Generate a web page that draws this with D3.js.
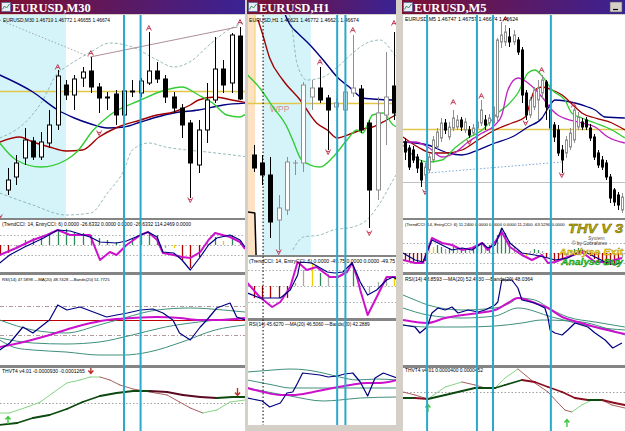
<!DOCTYPE html>
<html>
<head>
<meta charset="utf-8">
<script src="https://cdn.jsdelivr.net/npm/d3@7"></script>
<style>
body { margin:0; background:#d4d0c8; }
svg { display:block; }
</style>
</head>
<body>
<svg id="chart" width="625" height="431" font-family="Liberation Sans, DejaVu Sans, sans-serif"></svg>
<script>
// ---------- EURUSD M30 (bar index, level) ----------
// candles: [open, high, low, close]
const m30Candles = [
  [28,50,23,38],[41,63,33,55],[60,90,53,78],[77,81,58,61],[61,86,58,76],[75,108,70,93],
  [93,148,88,142],[133,138,118,123],[123,143,108,139],[140,151,131,146],[147,161,125,131],
  [131,135,105,120],[121,126,108,120],[124,128,93,103],[103,130,98,127],[126,138,121,127],
  [125,140,121,137],[135,186,133,147],[147,156,135,139],[139,143,115,121],[121,126,105,110],
  [110,114,80,93],[95,98,20,55],[53,98,45,88],[88,135,75,118],[118,181,115,149],
  [149,158,125,133],[135,185,125,183],[182,191,118,119]
];
const m30Navy = [[-1,143],[3,126],[6,108],[8,100],[10,94],[12,90],[14,91],[16,96],[18,101],[20,105],[23,108],[26,113],[29,115]];
const m30Maroon = [[-1,76],[1.4,81],[3,76],[5,71],[7,67],[9,68],[11,81],[13,90],[16,98],[18,103],[20,106],[22,113],[23,118],[25,121],[27,118],[29,115]];
const m30Green = [[-1,75],[1,58],[4,51],[7,58],[8.3,66],[10.3,88],[12.3,103],[16,118],[19,128],[21,131],[23,123],[24.7,115],[26.4,103],[28,101],[29,106]];
const m30Upper = [[-1,80],[2,95],[4,115],[6,145],[7,151],[8.7,160],[10,166],[12.3,175],[15,171],[18,158],[20,151],[22.3,158],[24,171],[27,190],[28.7,196]];
const m30Lower = [[-1,25],[3,13],[7,3],[10,5],[12,25],[14,48],[15,68],[17,75],[19,71],[21.6,68],[24,66],[29,61]];
const m30TrendDotted = [[-1,198],[9.9,161]];
const m30TrendSolid = [[9.9,161],[27.7,191]];
const m30Pivot = 127;
const m30Session = [-1, 7];
const m30Cyan = [14, 16];
const m30UpMarks = [[6,151],[10,165],[17,190],[28,196]];
const m30DownMarks = [[-1,1],[11,85],[22,18]];
// TrendCCI (index -1 .. 28)
const m30CciBars = [-10,-8,-3,5,7,8,12,15,16,13,12,10,7,5,3,5,7,10,13,10,-3,-3,-15,-23,-12,3,8,4,10,5];
const m30CciColors = "rrngggggggggggggggggnyrrrngygg".split("");
const m30CciFast = [[-1,-18],[0.2,-10],[2,-2],[4.3,7],[6,15],[7.5,14],[9.9,8],[11.1,3],[13.1,2],[14.3,4],[16,10],[16.9,13],[18,8],[18.7,-7],[20,-8],[21,-15],[22,-25],[23.2,-12],[24.2,0],[25.2,7],[26.8,10],[28,5],[28.6,-2]];
const m30CciSlow = [[-1,-10],[1,-3],[3,5],[4.7,10],[6,15],[7.5,10],[9.9,10],[11.1,-15],[12.3,-7],[13.1,-10],[14.3,0],[16,10],[16.9,13],[18,5],[18.7,-8],[20,-10],[21,-12],[22,-13],[23.2,-7],[24.2,5],[25,12],[26.8,8],[28,3],[28.6,-4]];
const m30CciLevels = [10, 0, -10];
// RSI
const m30Rsi = [[-1,15],[0.2,22],[1.8,38],[3,32],[5,45],[6,60],[7.1,55],[8.7,58],[10.3,53],[11.9,48],[13.1,50],[14.4,52],[16,55],[17.5,56],[18.7,52],[19.9,45],[20.7,32],[22,25],[23.2,38],[24,45],[25.2,57],[26.8,62],[27.6,48],[28.6,45]];
const m30RsiMa = [[-1,18],[1.4,22],[5,30],[9,40],[12,45],[15.1,47],[18,48],[20.7,47],[23.2,45],[25.6,45],[28.6,47]];
const m30BandUp = [[-1,45],[3,35],[7,32],[11,40],[14,47],[18,55],[22,57],[26,55],[28.6,53]];
const m30BandMid = [[-1,27],[3,22],[7,21],[11,23],[15,30],[19,38],[23,43],[28.6,47]];
const m30BandLow = [[-1,25],[1,17],[3,15],[7,13],[11,10],[14,10],[17,13],[21,23],[25,35],[28.6,40]];
const m30RsiLevels = [59, 45, 30];
// THVT4
const m30ThvSignal = [[-1,18],[0.2,18],[2.3,24],[3.9,29],[5.4,38],[7.1,48],[8.7,51],[9.9,54],[11.1,54],[12.3,51],[13.5,46],[15.1,42],[17.1,39],[19.2,36],[20.7,29],[22,23],[23.5,18],[25.2,21],[26.8,29],[28.6,31]];
const m30ThvMain = [[-1,6],[1.1,8],[3,13],[5,16],[7.1,22],[9,29],[11.1,35],[13.1,38],[15.1,40],[17.1,40],[19.2,39],[21.1,36],[23.2,34],[25.2,33],[27.1,34],[28.6,34]];
const m30ThvLevel = 28;
const m30ThvUp = [[0,11]];
const m30ThvDown = [[10,61],[27.7,39]];

// ---------- EURUSD H1 ----------
const h1Candles = [
  [100,110,83,87],[92,100,70,80],[80,98,17,33],[35,60,5,47],[45,98,40,93],[92,95,80,92],
  [92,173,83,170],[158,175,145,167],[167,188,152,155],[157,160,105,145],[148,157,145,152],
  [145,175,143,163],[162,220,158,167],[166,170,122,125],[132,135,27,65],[65,158,55,142],
  [140,203,110,158],[169,223,135,142]
];
const h1Navy = [[3.8,240],[4.4,230],[5.3,222],[6.8,210],[8.4,195],[10.1,178],[11.7,167],[13.2,157],[14.4,156],[16.9,155],[17.4,157]];
const h1Maroon = [[0.5,235],[1,222],[1.9,197],[3.5,175],[5.6,155],[7.6,132],[8.9,125],[10.1,117],[12,122],[13.7,127],[14.4,128],[16.1,135],[17.4,141]];
const h1Green = [[-0.8,180],[0.7,167],[2.3,148],[4,128],[4.7,115],[5.8,95],[8,88],[9.6,98],[11.3,115],[12.5,125],[13.2,122],[14.4,140],[15.7,142],[16.9,130],[17.4,128]];
const h1Upper = [[4.2,245],[4.7,222],[5.2,192],[6.4,175],[8.4,178],[10.4,190],[12,202],[13.7,212],[15.3,215],[16.9,202],[17.4,196]];
const h1Lower = [[4.7,5],[6,18],[8,20],[9.6,25],[12,28],[13.7,35],[15.3,52],[17.1,78],[17.4,82]];
const h1Black = [[-0.8,43],[0.1,42],[0.25,0]];
const h1Pivot = 152;
const h1Band = [-0.8, 0.12];
const h1Session = [1.1, 6.9];
const h1Cyan = [10.1, 11.1];
const h1UpMarks = [[8,193],[12,225],[17,232]];
const h1DownMarks = [[3,3],[9,103],[14,22]];
const h1CciBars = [-12,-12,-12,-12,-12,3,16,23,13,12,8,5,18,3,-7,4,8,9];
const h1CciColors = "rrrrrnnygnnngnnnny".split("");
const h1CciFast = [[-0.8,-7],[0.7,-12],[3.2,-12],[4.4,-4],[5.3,11],[5.6,24],[7,23],[8.9,14],[9.8,13],[10.8,14],[11.9,23],[12.4,14],[12.9,4],[13.8,-9],[14.9,-4],[16.1,6],[16.9,9],[17.4,6]];
const h1CciSlow = [[-0.8,3],[0.7,-11],[2.2,-21],[3.2,-16],[4.4,-1],[5.3,24],[6.4,16],[7.6,19],[9.2,9],[10.2,9],[11.3,14],[11.9,23],[12.5,9],[12.9,-4],[13.8,-29],[14.9,-11],[16.1,9],[17.4,9]];
const h1CciLevels = [16, 0, -16];
const h1Rsi = [[-0.8,27],[1,24],[1.9,18],[3.2,22],[4,32],[4.7,33],[5.3,42],[5.9,52],[8,50],[9,48],[10.1,49],[11,51],[12,52],[12.9,43],[13.8,29],[14.7,47],[15.7,52],[17.4,47]];
const h1RsiMa = [[-0.8,37],[1.1,33],[3.2,30],[4.7,30],[7.2,33],[9.6,37],[11.7,40],[13.7,42],[15.3,42],[17.4,45]];
const h1BandUp = [[-0.8,53],[2.3,55],[4.4,56],[6.4,55],[8.4,52],[10.4,48],[12.5,45],[14.9,46],[17.4,45]];
const h1BandMid = [[-0.8,45],[2.3,40],[4.4,37],[8.4,37],[12.5,37],[17.4,37]];
const h1BandLow = [[-0.8,37],[2.3,32],[4.4,29],[8.4,24],[10.4,25],[12.9,27],[17.4,28]];

// ---------- EURUSD M5 ----------
const m5Candles = [
  [76,80,58,66],[70,73,48,51],[68,72,55,58],[61,64,45,50],[55,58,31,38],[43,55,28,51],
  [48,64,45,61],[58,82,55,78],[71,90,68,86],[80,100,76,95],[95,99,84,88],[81,96,78,91],
  [90,108,87,100],[91,103,88,98],[98,101,87,91],[88,100,85,96],[88,92,80,83],[85,94,82,90],
  [90,100,86,96],[95,118,92,108],[98,103,88,93],[95,104,92,100],[95,114,92,111],[101,180,96,178],
  [176,196,170,183],[176,193,172,186],[181,190,171,176],[176,188,173,183],[178,181,163,166],
  [168,171,115,123],[125,128,98,103],[103,121,100,118],[111,131,108,128],[118,138,98,130],
  [125,143,120,138],[136,138,98,111],[108,112,85,90],[93,96,76,81],[88,93,62,65],[68,73,45,58],
  [65,82,60,78],[71,90,68,85],[78,110,75,108],[91,106,88,101],[96,100,88,91],[98,101,88,91],
  [90,94,77,80],[81,84,58,61],[65,68,50,53],[58,62,48,51],[55,58,38,41],[41,44,15,20],
  [28,30,12,16],[23,26,8,13],[8,25,5,21]
];
const m5Magenta = [[-0.5,76],[2.5,76],[5.7,71],[9.2,61],[12.4,65],[15.7,76],[19.2,85],[22.4,93],[24.1,103],[25.6,128],[28.1,140],[30.6,135],[34.1,121],[36.6,108],[38,103],[44,95],[47.3,91],[50.5,81],[54.7,75]];
const m5Green = [[-0.5,73],[2.5,61],[5.7,56],[9.2,58],[12.4,70],[15.7,80],[19.2,88],[21.6,98],[23.1,105],[25.6,113],[28.1,125],[30.6,145],[32.3,148],[34.3,141],[36.6,128],[39.8,118],[41.5,105],[44,100],[47.3,95],[51.5,88],[54.7,80]];
const m5Maroon = [[-0.5,81],[3.2,71],[6.7,65],[10,65],[14.2,68],[18.2,78],[22.4,88],[26.6,95],[29.9,101],[30.6,108],[32.3,128],[34.1,131],[36.6,128],[39.1,123],[42.3,111],[44,105],[47.3,100],[51.5,95],[54.7,88]];
const m5Navy = [[-0.5,76],[5.7,73],[10.7,65],[14.2,63],[18.2,68],[22.4,75],[26.6,81],[30.6,91],[34.1,100],[36.1,113],[37.3,118],[42.3,115],[45.5,111],[47.3,108],[49.8,101],[54.7,100]];
const m5Pivot = 89;
const m5Flat = 36;
const m5Dotted = [[5.7,45],[39,56]];
const m5Cyan = [5.5, 17.9, 21.9, 36.3];
const m5UpMarks = [[12,116],[19,122],[25,199],[34,148],[42,113]];
const m5DownMarks = [[5,26],[16,76],[30,95],[39,43]];
const m5CciBars = [-8,-9,-9,-10,-10,-8,5,6,8,6,4,5,6,4,5,4,3,5,7,9,5,8,10,18,25,20,12,6,3,-2,-3,2,4,3,2,-5,-7,-8,-7,-6,-3,2,4,5,3,2,-3,-6,-9,-10,-11,-12,-11,-10,-5];
const m5CciColors = ("rrrrrr" + "yyggnggnggngggnggggggnn" + "nynggn" + "rrrrr" + "nnggnn" + "rrrrrrrr" + "n").split("");
const m5CciFast = [[-0.5,0],[2.5,-7],[4.5,-9],[6.7,13],[9.2,8],[11.7,3],[14.2,5],[16.7,3],[19.2,10],[20.6,5],[22.4,8],[24.1,25],[26.1,10],[29.1,0],[32.3,-2],[35.6,-5],[37.3,-7],[40.5,-5],[44,3],[47.3,-4],[49.8,-9],[52.2,-12],[54,-9]];
const m5CciSlow = [[-0.5,-7],[2.5,-10],[4.5,-10],[6.7,15],[9.2,10],[11.7,8],[14.2,3],[16.7,5],[19.2,10],[20.6,3],[22.4,11],[24.1,21],[26.1,6],[29.1,-2],[31.6,-7],[34.1,-2],[35.6,-10],[37.3,-9],[40.5,-4],[44,1],[47.3,-9],[50.5,-9],[54,-5]];
const m5CciLevels = [10, 0, -10];
const m5Rsi = [[-0.5,40],[2.5,38],[3.7,32],[5.5,38],[6.7,52],[8.2,57],[10,55],[11.7,58],[13.2,52],[15.7,55],[18.2,53],[19.9,55],[22.4,60],[23.1,63],[24.1,85],[26.6,85],[28.1,77],[29.1,65],[32.3,62],[34.8,57],[35.6,47],[36.1,35],[37.3,32],[39.1,30],[40.5,35],[42.3,42],[45.5,38],[47.3,32],[49.8,25],[51.7,17],[54,22]];
const m5RsiMa = [[-0.5,45],[5.5,42],[10,47],[18.2,52],[22.4,55],[25.6,62],[28.1,67],[32.3,62],[35.6,57],[39.1,48],[43,43],[47.3,38],[54.7,31]];
const m5BandUp = [[-0.5,70],[2.5,65],[5.7,60],[14.2,55],[22.4,57],[26.6,63],[28.1,67],[32.3,65],[36.6,55],[40.5,48],[47.3,43],[54.7,38]];
const m5BandMid = [[-0.5,57],[5.7,50],[14.2,47],[22.4,49],[28.1,57],[36.6,48],[47.3,38],[54.7,35]];
const m5BandLow = [[-0.5,40],[5.7,38],[14.2,38],[22.4,39],[29.1,42],[34.1,45],[44,43],[49,38],[54.7,30]];
const m5ThvSignal = [[-0.5,39],[2.5,36],[5.7,32],[10,44],[14.2,49],[17.4,46],[19.9,43],[22.4,43],[24.9,53],[28.1,62],[29.9,56],[32.3,48],[35.6,39],[38.1,28],[39.8,21],[41.5,19],[44,26],[46.5,31],[49,31],[51.5,26],[54.7,23]];
const m5ThvMain = [[-0.5,33],[2.5,33],[5.7,32],[10,36],[14.2,40],[17.4,43],[19.9,43],[22.4,43],[24.9,46],[29.1,51],[32.3,49],[35.6,44],[39.1,39],[42.3,33],[45.5,31],[49,31],[52.2,28],[54.7,26]];
const m5ThvLevel = 39;
const m5ThvUp = [[5.7,23],[40.3,8]];

// ---------- texts ----------
const titles = ["EURUSD,M30", "EURUSD,H1", "EURUSD,M5"];
const priceHeaders = ["EURUSD,M30  1.46719 1.46772 1.46655 1.46674", "EURUSD,H1  1.46621 1.46772 1.46621 1.46674", "EURUSD,M5  1.46747 1.46757 1.46674 1.46624"];
const cciHeaders = ["(TrendCCI: 14, EntryCCI: 6)  0.0000 -26.6332 0.0000 0.0000 -26.6332 114.2469 0.0000",
  "(TrendCCI: 14, EntryCCI: 6)  0.0000 -49.75 0.0000 0.0000 -49.75",
  "(TrendCCI: 14, EntryCCI: 6)  11.2400 0.0000 0.0000 0.0000 11.2400 -63.5290 0.0000"];
const rsiHeaders = ["RSI(14) 47.5898  \u2014MA(20) 48.7428  \u2014Bands(20) 51.7725",
  "RSI(14) 45.6270  \u2014MA(20) 46.5060  \u2014Bands(20) 42.2889",
  "RSI(14) 48.8593  \u2014MA(20) 52.4930  \u2014Bands(20) 48.0364"];
const thvHeaders = ["THVT4 v4.01 -0.0000930 -0.0001265", "THVT4 v4.01 0.0000400 0.0000452"];
const logoTexts = ["THV V 3", "System", "\u00a9 by Cobraforex", "Analyse Exit", "Analyse Buy"];

// ---------- drawing ----------
const svg = d3.select("#chart");
const defs = svg.append("defs");
const grad = defs.append("linearGradient").attr("id", "tb").attr("x1", 0).attr("x2", 1);
grad.append("stop").attr("offset", 0).attr("stop-color", "#7d1030");
grad.append("stop").attr("offset", 1).attr("stop-color", "#3a2294");

const cNavy = "#000080", cMaroon = "#a00000", cGreen = "#33cc33", cMag = "#cc11cc",
      cTeal = "#3f8f7c", cBand = "#7fa8a8", cCyan = "#29a9cc", cYellow = "#e2c64a",
      cMark = "#c23a55";
const barColor = {r: "#b00000", g: "#2e8b57", y: "#f0d000", n: "#a8a8a8"};

let clipN = 0;
function panel(x, x0, x1, top, bottom, domain) {
  const id = "clip" + (clipN++);
  defs.append("clipPath").attr("id", id).append("rect")
    .attr("x", x0).attr("y", top).attr("width", x1 - x0).attr("height", bottom - top);
  svg.append("rect").attr("x", x0).attr("y", top).attr("width", x1 - x0).attr("height", bottom - top).attr("fill", "#fff");
  const g = svg.append("g").attr("clip-path", `url(#${id})`);
  const y = d3.scaleLinear().domain(domain).range([bottom, top]);
  return {g, x, y, x0, x1, top, bottom};
}

function shade(p, a, b, color) {
  p.g.append("rect").attr("x", p.x(a)).attr("width", p.x(b) - p.x(a))
    .attr("y", p.top).attr("height", p.bottom - p.top).attr("fill", color);
}

function hline(p, v, color, w, dash) {
  p.g.append("line").attr("x1", p.x0).attr("x2", p.x1)
    .attr("y1", Math.round(p.y(v)) + 0.5).attr("y2", Math.round(p.y(v)) + 0.5)
    .attr("stroke", color).attr("stroke-width", w).attr("stroke-dasharray", dash || null);
}

function line(p, pts, color, w, dash, curve) {
  p.g.append("path").datum(pts)
    .attr("fill", "none").attr("stroke", color).attr("stroke-width", w)
    .attr("stroke-dasharray", dash || null).attr("stroke-linejoin", "round")
    .attr("d", d3.line().x(d => p.x(d[0])).y(d => p.y(d[1])).curve(curve || d3.curveMonotoneX));
}

function twoTone(p, pts, upC, downC, w) {
  p.g.append("g").selectAll("line").data(d3.pairs(pts)).join("line")
    .attr("x1", d => p.x(d[0][0])).attr("y1", d => p.y(d[0][1]))
    .attr("x2", d => p.x(d[1][0])).attr("y2", d => p.y(d[1][1]))
    .attr("stroke", d => d[1][1] >= d[0][1] ? upC : downC)
    .attr("stroke-width", w).attr("stroke-linecap", "round");
}

function candles(p, data, bw, upColor) {
  const g = p.g.append("g");
  const cx = i => Math.round(p.x(i)) + 0.5;
  g.selectAll("line").data(data).join("line")
    .attr("x1", (d, i) => cx(i)).attr("x2", (d, i) => cx(i))
    .attr("y1", d => p.y(d[1])).attr("y2", d => p.y(d[2]))
    .attr("stroke", d => d[3] >= d[0] ? upColor : "#000");
  g.selectAll("rect").data(data).join("rect")
    .attr("x", (d, i) => cx(i) - bw / 2)
    .attr("y", d => p.y(Math.max(d[0], d[3])))
    .attr("width", bw)
    .attr("height", d => Math.max(0.01, Math.abs(p.y(d[0]) - p.y(d[3]))))
    .attr("fill", d => d[3] > d[0] ? "#fff" : (d[3] < d[0] ? "#000" : "none"))
    .attr("stroke", d => d[3] >= d[0] ? upColor : "#000");
}

function cciBars(p, values, colors, start) {
  p.g.append("g").selectAll("line").data(values).join("line")
    .attr("x1", (d, i) => Math.round(p.x(i + start)) + 0.5).attr("x2", (d, i) => Math.round(p.x(i + start)) + 0.5)
    .attr("y1", p.y(0)).attr("y2", d => p.y(d))
    .attr("stroke", (d, i) => barColor[colors[i]]).attr("stroke-width", 1.3);
}

function marks(p, pts, up) {
  p.g.append("g").selectAll("path").data(pts).join("path")
    .attr("transform", d => `translate(${p.x(d[0])},${p.y(d[1])})`)
    .attr("d", up ? "M-2.5,2.5L0,-2.5L2.5,2.5M-1.3,0.6H1.3" : "M-2.5,-2.5L0,2.5L2.5,-2.5M-1.3,-0.6H1.3")
    .attr("fill", "none").attr("stroke", cMark).attr("stroke-width", 1);
}

function arrows(p, pts, up) {
  p.g.append("g").selectAll("path").data(pts).join("path")
    .attr("transform", d => `translate(${p.x(d[0])},${p.y(d[1])})`)
    .attr("d", up ? "M0,4V-3M-2.5,-0.5L0,-3.5L2.5,-0.5" : "M0,-4V3M-2.5,0.5L0,3.5L2.5,0.5")
    .attr("fill", "none").attr("stroke", up ? "#3cc43c" : "#c0302a").attr("stroke-width", 1.4);
}

// small header text: the font size is chosen so the text spans `len` pixels
function label(x, y, txt, len) {
  const t = svg.append("text").attr("x", x).attr("y", y).attr("font-size", 10).attr("fill", "#000").text(txt);
  const w = t.node().getComputedTextLength();
  t.attr("font-size", (10 * len / w).toFixed(2));
}

function separator(x0, x1, y, h) {
  svg.append("rect").attr("x", x0).attr("y", y).attr("width", x1 - x0).attr("height", h).attr("fill", "#858585");
}

function titleBar(x0, x1, txt) {
  svg.append("rect").attr("x", x0).attr("y", 0).attr("width", x1 - x0).attr("height", 14).attr("fill", "url(#tb)");
  svg.append("rect").attr("x", x0 + 1.5).attr("y", 2.5).attr("width", 9).attr("height", 9).attr("fill", "#e8eef8").attr("stroke", "#4060a0").attr("stroke-width", 0.6);
  svg.append("path").attr("d", `M${x0 + 2.5},${9.5}L${x0 + 4.5},${6}L${x0 + 6.5},${8}L${x0 + 9.5},${4}`).attr("fill", "none").attr("stroke", "#1a7a30").attr("stroke-width", 0.8);
  svg.append("text").attr("x", x0 + 12).attr("y", 11.5).attr("fill", "#fff")
    .attr("font-family", "Liberation Serif, DejaVu Serif, serif").attr("font-weight", "bold")
    .attr("font-size", 12.5).text(txt);
}

function vlines(xs, list, color, w, top, bottom, dash) {
  svg.append("g").selectAll("line").data(list).join("line")
    .attr("x1", d => xs(d)).attr("x2", d => xs(d)).attr("y1", top).attr("y2", bottom)
    .attr("stroke", color).attr("stroke-width", w).attr("stroke-dasharray", dash || null);
}

// ================= window 1: M30 =================
const m30X = d3.scaleLinear().domain([0, 28]).range([8, 240]);
titleBar(0, 245, titles[0]);
const a1 = panel(m30X, 0, 245, 15, 218, [0, 203]);
shade(a1, m30Session[0], m30Session[1], "#d5f4fa");
hline(a1, m30Pivot, cYellow, 1.6);
line(a1, m30Upper, cBand, 0.8, "3,2");
line(a1, m30Lower, cBand, 0.8, "3,2");
line(a1, m30TrendDotted, "#909090", 0.8, "1.5,2", d3.curveLinear);
line(a1, m30TrendSolid, "#9a7080", 0.8, null, d3.curveLinear);
line(a1, m30Navy, cNavy, 1.4);
line(a1, m30Maroon, cMaroon, 1.4);
line(a1, m30Green, cGreen, 1.4);
candles(a1, m30Candles, 4, "#000");
marks(a1, m30UpMarks, true);
marks(a1, m30DownMarks, false);
label(3, 22, priceHeaders[0], 107);

separator(0, 245, 218, 2);
const b1 = panel(m30X, 0, 245, 220, 272, [-27, 25]);
m30CciLevels.forEach(v => hline(b1, v, "#999", 0.8, "1.5,2"));
cciBars(b1, m30CciBars, m30CciColors, -1);
line(b1, m30CciSlow, cMag, 2, null, d3.curveLinear);
line(b1, m30CciFast, cNavy, 1.2, null, d3.curveLinear);
label(2, 226, cciHeaders[0], 190);

separator(0, 245, 272, 3);
const c1 = panel(m30X, 0, 245, 275, 365, [0, 90]);
hline(c1, m30RsiLevels[0], "#a08080", 0.8, "4,2,1,2");
hline(c1, m30RsiLevels[1], "#c00000", 1);
hline(c1, m30RsiLevels[2], "#a08080", 0.8, "4,2,1,2");
line(c1, m30BandUp, cTeal, 1);
line(c1, m30BandMid, cTeal, 1);
line(c1, m30BandLow, cTeal, 1);
line(c1, m30RsiMa, cMag, 2);
line(c1, m30Rsi, cNavy, 1.2, null, d3.curveLinear);
label(2, 281, rsiHeaders[0], 108);

separator(0, 245, 365, 3);
const d1 = panel(m30X, 0, 245, 368, 431, [0, 63]);
hline(d1, m30ThvLevel, "#888", 0.8, "1.5,2");
twoTone(d1, m30ThvSignal, "#86d486", "#a86060", 1);
twoTone(d1, m30ThvMain, "#0d4a10", "#5a0a20", 1.8);
arrows(d1, m30ThvUp, true);
arrows(d1, m30ThvDown, false);
label(2, 373, thvHeaders[0], 83);
vlines(m30X, m30Cyan, cCyan, 2, 15, 431);

// ================= window 2: H1 =================
const h1X = d3.scaleLinear().domain([0, 17]).range([254, 394]);
titleBar(247, 396, titles[1]);
const a2 = panel(h1X, 248, 396, 15, 255, [0, 240]);
shade(a2, h1Band[0], h1Band[1], "#fde3c4");
shade(a2, h1Session[0], h1Session[1], "#d5f4fa");
a2.g.append("line").attr("x1", h1X(h1Band[1])).attr("x2", h1X(h1Band[1])).attr("y1", a2.y(240)).attr("y2", a2.y(h1Pivot))
  .attr("stroke", "#ecd060").attr("stroke-width", 1);
hline(a2, h1Pivot, cYellow, 1.6);
a2.g.append("text").attr("x", h1X(h1Session[0]) + 7).attr("y", a2.y(h1Pivot) + 9)
  .attr("font-size", 8.5).attr("fill", "#d88a8a").text("WPP");
line(a2, h1Upper, cBand, 0.8, "3,2");
line(a2, h1Lower, cBand, 0.8, "3,2");
line(a2, h1Navy, cNavy, 1.4);
line(a2, h1Maroon, cMaroon, 1.4);
line(a2, h1Green, cGreen, 1.4);
line(a2, h1Black, "#000", 1.5, null, d3.curveLinear);
candles(a2, h1Candles, 4, "#909090");
marks(a2, h1UpMarks, true);
marks(a2, h1DownMarks, false);
label(249, 22, priceHeaders[1], 110);

separator(248, 396, 255, 2);
const b2 = panel(h1X, 248, 396, 257, 318, [-32, 29]);
h1CciLevels.forEach(v => hline(b2, v, "#999", 0.8, "1.5,2"));
cciBars(b2, h1CciBars, h1CciColors, 0);
line(b2, h1CciSlow, cMag, 2, null, d3.curveLinear);
line(b2, h1CciFast, cNavy, 1.2, null, d3.curveLinear);
label(249, 263, cciHeaders[1], 146);

separator(248, 396, 318, 3);
const c2 = panel(h1X, 248, 396, 321, 425, [0, 104]);
line(c2, h1BandUp, cTeal, 1);
line(c2, h1BandMid, cTeal, 1);
line(c2, h1BandLow, cTeal, 1);
line(c2, h1RsiMa, cMag, 2);
line(c2, h1Rsi, cNavy, 1.2, null, d3.curveLinear);
label(249, 326, rsiHeaders[1], 121);
vlines(h1X, [h1Session[0]], "#000", 1, 15, 425, "1.5,2");
vlines(h1X, h1Cyan, cCyan, 2, 15, 425);

// ================= window 3: M5 =================
const m5X = d3.scaleLinear().domain([0, 54]).range([405, 622]);
titleBar(402, 625, titles[2]);
svg.append("rect").attr("x", 610).attr("y", 2).attr("width", 12).attr("height", 10).attr("fill", "#d4d0c8").attr("stroke", "#555").attr("stroke-width", 0.6);
svg.append("line").attr("x1", 613).attr("x2", 618).attr("y1", 9.5).attr("y2", 9.5).attr("stroke", "#000").attr("stroke-width", 1.2);
const a3 = panel(m5X, 403, 625, 15, 218, [0, 203]);
hline(a3, m5Pivot, cYellow, 1.6);
hline(a3, m5Flat, "#b0b0b0", 0.8);
line(a3, m5Dotted, "#6a9ad0", 0.9, "1.5,2", d3.curveLinear);
line(a3, m5Navy, cNavy, 1.3);
line(a3, m5Maroon, cMaroon, 1.3);
line(a3, m5Green, cGreen, 1.3);
line(a3, m5Magenta, "#c020c0", 1.3);
candles(a3, m5Candles, 2, "#909090");
marks(a3, m5UpMarks, true);
marks(a3, m5DownMarks, false);
label(405, 21, priceHeaders[2], 113);

separator(403, 625, 218, 2);
const b3 = panel(m5X, 403, 625, 220, 272, [-19, 33]);
m5CciLevels.forEach(v => hline(b3, v, "#999", 0.8, "1.5,2"));
cciBars(b3, m5CciBars, m5CciColors, 0);
line(b3, m5CciSlow, cMag, 2, null, d3.curveLinear);
line(b3, m5CciFast, cNavy, 1.2, null, d3.curveLinear);
label(405, 226, cciHeaders[2], 160);
// THV logo, stacked so that the lines do not collide
const logo = svg.append("g").attr("font-style", "italic").attr("font-weight", "bold");
logo.append("text").attr("x", 568).attr("y", 233).attr("font-size", 13).attr("fill", "#b8aa00")
  .attr("stroke", "#5a5200").attr("stroke-width", 0.4).attr("textLength", 55).attr("lengthAdjust", "spacingAndGlyphs").text(logoTexts[0]);
logo.append("text").attr("x", 588).attr("y", 239.8).attr("font-size", 5).attr("font-weight", "normal").attr("fill", "#555").text(logoTexts[1]);
logo.append("text").attr("x", 572).attr("y", 245.3).attr("font-size", 4.8).attr("font-weight", "normal").attr("font-style", "normal").attr("fill", "#333").text(logoTexts[2]);
logo.append("text").attr("x", 559).attr("y", 254.6).attr("font-size", 8.5).attr("fill", "#f2d21c")
  .attr("stroke", "#a08800").attr("stroke-width", 0.3).attr("textLength", 64).attr("lengthAdjust", "spacingAndGlyphs").text(logoTexts[3]);
logo.append("text").attr("x", 561).attr("y", 265).attr("font-size", 9).attr("fill", "#2ccc2c")
  .attr("stroke", "#108010").attr("stroke-width", 0.3).attr("textLength", 62).attr("lengthAdjust", "spacingAndGlyphs").text(logoTexts[4]);

separator(403, 625, 272, 3);
const c3 = panel(m5X, 403, 625, 275, 365, [0, 90]);
line(c3, m5BandUp, cTeal, 1);
line(c3, m5BandMid, cTeal, 1);
line(c3, m5BandLow, cTeal, 1);
line(c3, m5RsiMa, cMag, 2);
line(c3, m5Rsi, cNavy, 1.2, null, d3.curveLinear);
label(405, 281, rsiHeaders[2], 128);

separator(403, 625, 365, 3);
const d3p = panel(m5X, 403, 625, 368, 431, [0, 63]);
hline(d3p, m5ThvLevel, "#888", 0.8, "1.5,2");
twoTone(d3p, m5ThvSignal, "#86d486", "#a86060", 1);
twoTone(d3p, m5ThvMain, "#0d4a10", "#8a1020", 1.8);
arrows(d3p, m5ThvUp, true);
label(405, 372, thvHeaders[1], 78);
vlines(m5X, m5Cyan, cCyan, 2, 15, 431);
</script>
</body>
</html>
